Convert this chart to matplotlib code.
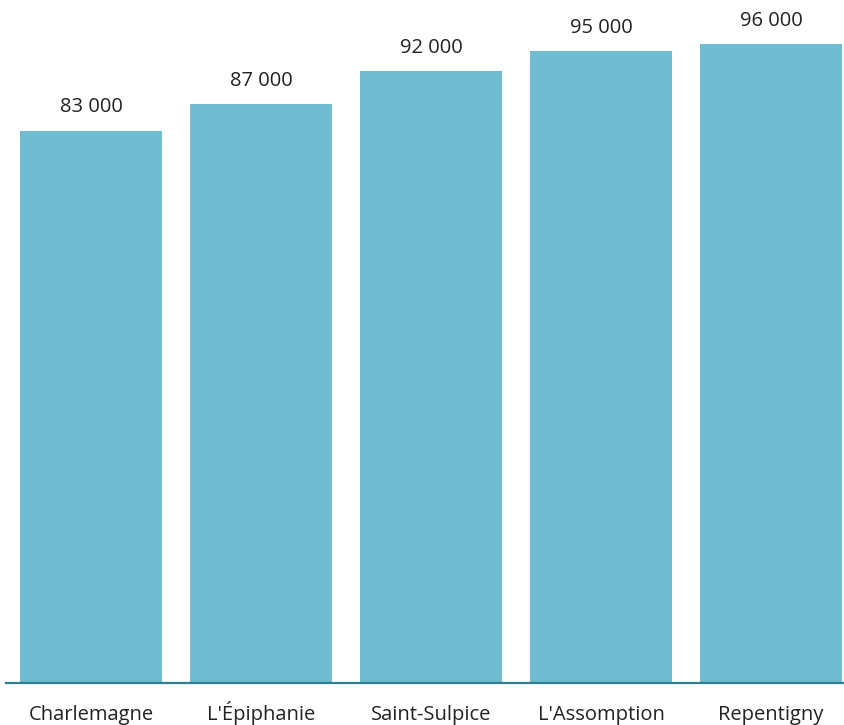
import numpy as np
import matplotlib.pyplot as plt

cities = ["Charlemagne", "L'Épiphanie", "Saint-Sulpice", "L'Assomption", "Repentigny"]
values = [83000, 87000, 92000, 95000, 96000]

plt.rcParams['font.family'] = ['Open Sans', 'DejaVu Sans']

fig = plt.figure(figsize=(8.45, 7.25), dpi=100)
ax = fig.add_axes([6 / 845, (725 - 683) / 725, 839 / 845, (683 - 44) / 725])

x = np.arange(len(cities))
bars = ax.bar(x, values, width=0.835, color='#70bcd1')

for b, v in zip(bars, values):
    ax.annotate(f"{v:,}".replace(",", " "), (b.get_x() + b.get_width() / 2, v),
                xytext=(0, 13), textcoords='offset points',
                ha='center', va='baseline', fontsize=14.5, color='#222222')

ax.set_xlim(-0.5, 4.435)
ax.set_ylim(0, 96000)
ax.set_xticks(x)
ax.set_xticklabels(cities, fontsize=14.5, color='#222222', va='baseline')
ax.tick_params(axis='x', length=0, pad=26.6)
ax.set_yticks([])

for s in ['top', 'right', 'left']:
    ax.spines[s].set_visible(False)
ax.spines['bottom'].set_color('#2e7f93')
ax.spines['bottom'].set_linewidth(1.6)

plt.savefig("out.png", dpi=100)
